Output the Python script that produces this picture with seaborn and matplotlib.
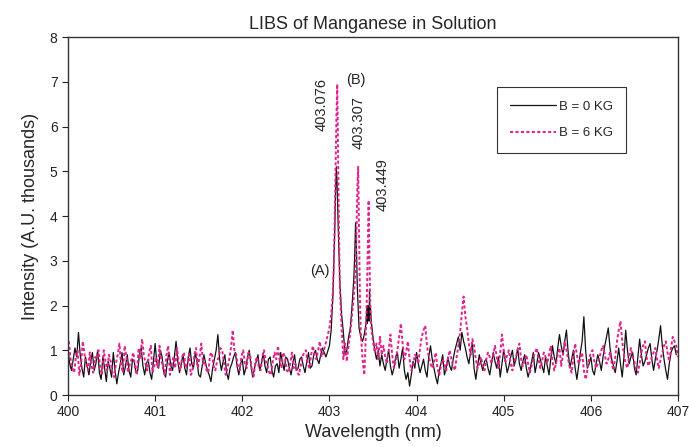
import numpy as np
import pandas as pd
from matplotlib import pyplot as plt
import seaborn as sns

# intensity values (A.U. thousands)
# B = 0 KG, background left of the Mn lines (400.00 .. step 0.02)
black_left = [1.00, 0.70, 0.55, 0.80, 1.05, 0.85, 1.40, 0.90, 0.60, 0.40,
              0.85, 0.65, 0.45, 0.75, 0.95, 0.55, 0.70, 1.00, 0.50, 0.35,
              0.85, 0.60, 0.30, 0.75, 0.60, 0.40, 0.95, 0.55, 0.25, 0.50,
              0.70, 0.95, 0.45, 0.65, 0.90, 0.55, 0.40, 0.80, 0.75, 0.50,
              0.55, 0.90, 1.05, 0.65, 0.45, 0.70, 0.80, 0.50, 0.35, 0.75,
              1.15, 0.70, 0.60, 1.00, 0.85, 0.50, 0.40, 0.75, 0.95, 0.65,
              0.55, 0.85, 1.20, 0.75, 0.50, 0.70, 0.90, 0.60, 0.45, 0.85,
              1.05, 0.70, 0.60, 0.95, 0.75, 0.45, 0.40, 0.65, 0.90, 0.70,
              0.55, 0.45, 0.30, 0.60, 0.80, 1.00, 1.35, 0.80, 0.55, 0.75,
              0.90, 0.50, 0.35, 0.60, 0.70, 0.85, 0.95, 0.65, 0.45, 0.70,
              0.80, 0.45, 0.60, 0.85, 1.00, 0.65, 0.40, 0.60, 0.75, 0.90,
              0.55, 0.70, 0.95, 0.65, 0.50, 0.80, 0.85, 0.55, 0.40, 0.65,
              0.70, 0.50, 0.95, 0.75, 0.55, 0.85, 0.80, 0.60, 0.45, 0.70,
              0.90, 0.55, 0.60, 0.80, 0.85, 0.65, 0.50, 0.75, 0.95, 0.60,
              0.65, 0.90, 1.00, 0.80, 0.70, 0.90, 1.05, 0.95, 0.85]
# B = 0 KG, Mn triplet region
black_peak_wl = [403.00, 403.02, 403.04, 403.06, 403.07, 403.08, 403.09, 403.10,
                 403.12, 403.14, 403.16, 403.18, 403.20, 403.22, 403.24, 403.26,
                 403.28, 403.29, 403.30, 403.31, 403.32, 403.34, 403.36, 403.38,
                 403.40, 403.42, 403.43, 403.435, 403.44, 403.445, 403.45, 403.455,
                 403.46, 403.465, 403.47, 403.48, 403.50, 403.52, 403.54, 403.56,
                 403.58]
black_peak = [1.10, 1.45, 2.20, 3.60, 4.50, 5.10, 4.60, 3.80,
              2.50, 1.80, 1.40, 0.90, 1.00, 1.30, 1.50, 2.00,
              2.60, 3.10, 3.85, 3.30, 2.40, 1.50, 1.30, 1.20,
              1.35, 1.60, 1.95, 1.60, 2.00, 1.70, 1.95, 1.65,
              2.35, 1.80, 2.00, 1.65, 1.30, 1.00, 0.80, 1.00,
              0.65]
# B = 0 KG, background right of the lines (403.60 .. step 0.02)
black_right = [0.90, 0.70, 0.55, 0.80, 1.00, 0.65, 0.45, 0.60, 0.85, 0.95,
               0.60, 0.80, 1.05, 0.55, 0.35, 0.50, 0.20, 0.45, 0.75, 0.60,
               0.95, 0.70, 0.50, 0.65, 0.80, 0.55, 0.40, 0.85, 1.10, 0.80,
               0.60, 0.40, 0.25, 0.55, 0.70, 0.90, 0.45, 0.60, 0.85, 0.65,
               0.55, 0.80, 1.00, 1.15, 1.30, 1.00, 1.40, 1.20, 1.05, 0.85,
               0.70, 0.95, 1.15, 0.60, 0.35, 0.65, 0.90, 0.70, 0.55, 0.75,
               0.80, 0.60, 0.45, 0.70, 0.95, 0.75, 0.60, 0.85, 0.40, 0.70,
               1.00, 0.75, 0.50, 0.65, 0.85, 1.00, 0.65, 0.80, 1.05, 0.70,
               0.55, 0.75, 0.90, 0.60, 0.40, 0.55, 0.75, 0.95, 0.50, 0.70,
               0.95, 0.80, 0.65, 0.50, 0.85, 0.65, 0.45, 0.80, 1.10, 0.85,
               0.70, 1.05, 1.35, 1.10, 0.90, 1.20, 1.45, 0.95, 0.60, 0.80,
               1.00, 0.60, 0.35, 0.65, 0.95, 1.20, 1.75, 1.00, 0.60, 0.70,
               0.85, 0.55, 0.45, 0.70, 0.90, 0.75, 0.55, 0.85, 1.10, 1.30,
               1.50, 1.05, 0.80, 0.65, 0.50, 0.75, 1.05, 0.70, 0.40, 0.85,
               1.45, 1.00, 0.70, 0.85, 0.95, 0.60, 0.45, 0.85, 1.25, 0.90,
               0.65, 0.75, 0.90, 1.05, 1.15, 0.80, 0.55, 0.80, 1.00, 1.25,
               1.55, 1.10, 0.80, 0.55, 0.35, 0.70, 0.95, 1.05, 1.10, 0.90]

# B = 6 KG, background left (400.01 .. step 0.02)
pink_left = [1.20, 0.80, 0.60, 0.50, 0.85, 1.00, 0.45, 0.70, 1.20, 0.90,
             0.70, 0.55, 0.95, 0.65, 0.50, 0.85, 0.80, 1.00, 0.60, 0.45,
             1.00, 0.75, 0.55, 0.90, 0.75, 0.50, 0.40, 0.70, 0.90, 1.15,
             0.65, 0.50, 1.10, 0.85, 0.50, 0.70, 0.80, 0.95, 0.60, 0.45,
             1.05, 0.80, 1.25, 0.90, 0.70, 0.55, 0.95, 1.10, 0.50, 0.65,
             0.85, 0.60, 1.10, 0.80, 0.60, 0.45, 0.90, 1.10, 0.45, 0.70,
             0.85, 0.60, 1.05, 0.75, 0.55, 0.85, 0.95, 0.60, 0.70, 0.90,
             0.45, 0.55, 0.90, 1.05, 0.60, 0.85, 1.15, 0.70, 0.75, 0.55,
             0.50, 0.90, 0.95, 0.65, 0.55, 0.75, 0.85, 1.05, 1.00, 0.70,
             0.45, 0.60, 0.80, 1.05, 1.45, 1.00, 0.90, 0.65, 0.55, 0.85,
             1.00, 0.70, 0.60, 0.95, 0.90, 0.55, 0.40, 0.75, 0.85, 0.60,
             0.55, 0.85, 1.00, 0.75, 0.65, 0.50, 0.45, 0.75, 0.95, 0.80,
             1.10, 0.75, 0.60, 0.95, 0.85, 0.55, 0.50, 0.70, 0.95, 0.60,
             0.70, 0.50, 0.45, 0.65, 0.85, 0.95, 1.00, 0.70, 0.60, 0.90,
             1.10, 0.85, 0.80, 1.00, 1.20, 0.85, 0.95, 1.10, 1.25]
pink_peak_wl = [403.00, 403.02, 403.03, 403.04, 403.05, 403.06, 403.07, 403.08,
                403.09, 403.10, 403.11, 403.12, 403.14, 403.16, 403.18, 403.20,
                403.22, 403.24, 403.26, 403.28, 403.30, 403.31, 403.32, 403.33,
                403.34, 403.35, 403.36, 403.38, 403.40, 403.41, 403.42, 403.43,
                403.44, 403.45, 403.46, 403.47, 403.48, 403.50, 403.52, 403.54,
                403.56, 403.58, 403.60]
pink_peak = [1.50, 1.80, 2.05, 2.30, 2.90, 3.80, 5.00, 6.20,
             6.95, 5.30, 3.60, 2.40, 1.50, 0.80, 1.15, 0.75,
             1.10, 1.40, 1.80, 2.20, 2.80, 3.60, 4.60, 5.10,
             3.60, 2.20, 1.40, 0.80, 0.45, 0.90, 1.50, 2.20,
             3.30, 4.35, 3.00, 1.90, 1.50, 1.20, 0.95, 1.15,
             0.80, 1.30, 0.90]
# B = 6 KG, background right (403.62 .. step 0.02)
pink_right = [1.10, 0.85, 0.70, 1.00, 1.35, 0.90, 0.60, 0.75, 1.00, 1.30,
              1.60, 1.15, 0.80, 0.95, 1.20, 0.80, 0.55, 0.65, 0.90, 0.85,
              0.70, 1.05, 1.30, 1.45, 1.55, 1.10, 0.85, 0.70, 0.60, 0.75,
              0.95, 0.60, 0.45, 0.65, 0.80, 0.70, 0.55, 0.80, 1.00, 0.80,
              0.65, 0.55, 0.85, 1.10, 1.40, 1.85, 2.20, 1.75, 1.50, 1.15,
              0.90, 1.25, 1.10, 0.80, 0.60, 0.70, 0.85, 0.65, 0.55, 0.80,
              0.95, 0.85, 0.70, 0.90, 1.10, 0.85, 0.60, 0.95, 1.35, 1.00,
              0.75, 0.90, 1.00, 0.70, 0.55, 0.75, 0.85, 1.00, 1.15, 0.80,
              0.65, 0.75, 0.90, 0.70, 0.50, 0.65, 0.85, 0.95, 1.05, 0.80,
              0.60, 0.75, 0.95, 0.85, 0.70, 0.90, 1.10, 0.75, 0.55, 0.70,
              0.90, 1.05, 0.65, 0.90, 1.20, 1.00, 0.80, 0.60, 0.50, 0.85,
              1.15, 0.90, 0.70, 0.80, 0.95, 0.55, 0.35, 0.55, 0.80, 0.95,
              1.00, 0.75, 0.60, 0.70, 0.85, 1.00, 1.10, 0.90, 0.70, 0.80,
              0.95, 0.70, 0.55, 0.85, 1.20, 1.45, 1.65, 1.20, 0.90, 0.70,
              0.60, 0.85, 1.05, 0.85, 0.75, 0.55, 0.50, 0.70, 0.95, 1.10,
              1.20, 0.85, 0.65, 0.75, 0.85, 0.95, 1.05, 0.80, 0.60, 0.80,
              0.95, 1.10, 1.20, 0.95, 0.75, 1.05, 1.30, 1.20, 1.10, 0.85]

line_labels = ["403.076", "403.307", "403.449"]


def grid(start, n):
    return list(np.round(start + 0.02 * np.arange(n), 3))


black = pd.DataFrame({
    "Wavelength": grid(400.00, len(black_left)) + black_peak_wl + grid(403.60, len(black_right)),
    "Intensity": black_left + black_peak + black_right,
})
pink = pd.DataFrame({
    "Wavelength": grid(400.01, len(pink_left)) + pink_peak_wl + grid(403.62, len(pink_right)),
    "Intensity": pink_left + pink_peak + pink_right,
})

sns.set_style("ticks")
plt.rcParams['font.family'] = ['Liberation Sans', 'DejaVu Sans']

fig = plt.figure(figsize=(6.89, 4.47), dpi=100)
ax = fig.add_axes([0.0987, 0.1163, 0.8853, 0.8007])

pink_col = "#E3218C"
sns.lineplot(data=black, x="Wavelength", y="Intensity", ax=ax, color="#111111",
             lw=0.9, estimator=None, sort=False, label="B = 0 KG")
sns.lineplot(data=pink, x="Wavelength", y="Intensity", ax=ax, color=pink_col,
             lw=1.4, linestyle=(0, (1.6, 1.2)), estimator=None, sort=False,
             label="B = 6 KG")

ax.set_xlim(400, 407)
ax.set_ylim(0, 8)
ax.set_xticks(range(400, 408))
ax.set_yticks(range(0, 9))
for s in ax.spines.values():
    s.set_visible(True)
    s.set_color("#333333")
    s.set_linewidth(1.0)
ax.tick_params(direction="out", length=4, labelsize=10, colors="#222222")

ax.set_title("LIBS of Manganese in Solution", fontsize=13, pad=6)
ax.set_xlabel("Wavelength (nm)", fontsize=13, labelpad=3)
ax.set_ylabel("Intensity (A.U. thousands)", fontsize=13, labelpad=8)

# line annotations
ax.text(402.915, 6.5, line_labels[0], rotation=90, ha="center", va="center", fontsize=10.5)
ax.text(403.33, 6.1, line_labels[1], rotation=90, ha="center", va="center", fontsize=10.5)
ax.text(403.615, 4.7, line_labels[2], rotation=90, ha="center", va="center", fontsize=10.5)
ax.text(402.89, 2.77, "(A)", ha="center", va="center", fontsize=10.5)
ax.text(403.305, 7.04, "(B)", ha="center", va="center", fontsize=10.5)

leg = ax.legend(loc="upper left", bbox_to_anchor=(0.703, 0.86), frameon=True,
                fancybox=False, edgecolor="black", fontsize=9.5,
                handlelength=3.5, borderpad=1.0, labelspacing=1.1,
                handletextpad=0.2, borderaxespad=0)
leg.get_frame().set_linewidth(0.8)

fig.savefig("out.png", dpi=100)
